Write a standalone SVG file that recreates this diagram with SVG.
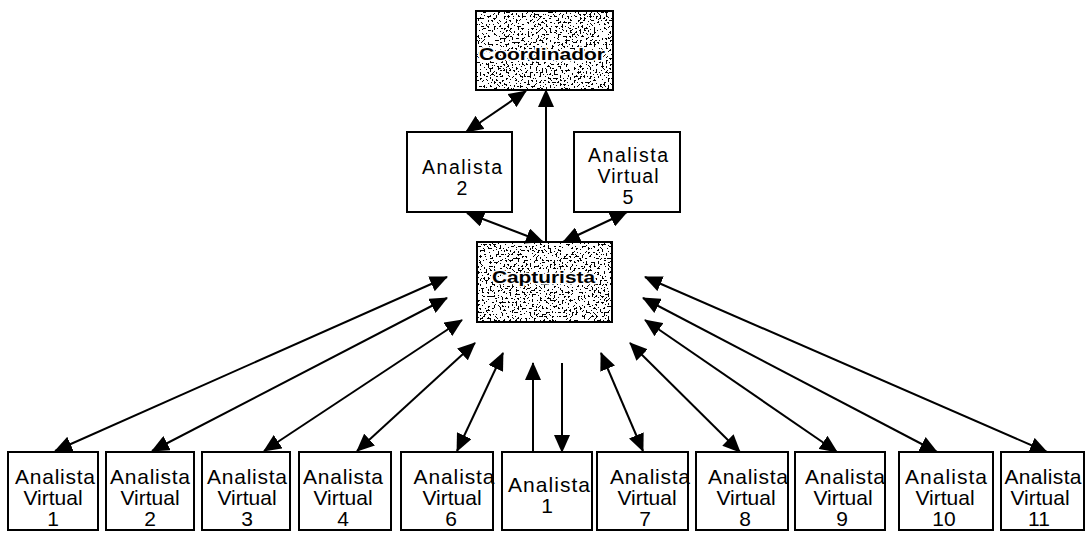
<svg xmlns="http://www.w3.org/2000/svg" width="1087" height="533" viewBox="0 0 1087 533">
  <style>
    .box { fill: #ffffff; stroke: #000000; stroke-width: 2; }
    .frame { fill: none; stroke: #000000; stroke-width: 2; }
    .tex { fill: #000000; filter: url(#speckle); }
    .lbl { font-family: "Liberation Sans", Arial, sans-serif; font-size: 21px; fill: #000000; text-anchor: middle; }
    .lblt { font-family: "Liberation Sans", Arial, sans-serif; font-size: 19.5px; fill: #000000; text-anchor: middle; }
    .bold { font-family: "Liberation Sans", Arial, sans-serif; font-size: 16.5px; font-weight: bold; fill: #000000; text-anchor: middle; stroke: #ffffff; stroke-width: 3; paint-order: stroke; stroke-linejoin: round; }
    .conn line { stroke: #000000; stroke-width: 2; fill: none; }
  </style>
  <defs>
    <filter id="speckle" x="0" y="0" width="1" height="1">
      <feTurbulence type="fractalNoise" baseFrequency="0.5" numOctaves="2" seed="7" result="n"/>
      <feColorMatrix in="n" type="matrix" values="0 0 0 0 0  0 0 0 0 0  0 0 0 0 0  1 0 0 0 0"/>
      <feComponentTransfer>
        <feFuncA type="discrete" tableValues="0 0 0 0 0 0 0 0 0 0 0 0 1 1 1 1 1 1 1 1"/>
      </feComponentTransfer>
      <feComposite operator="in" in2="SourceGraphic"/>
    </filter>
    <marker id="ah" viewBox="0 0 18 16" markerWidth="18" markerHeight="16" refX="17" refY="8" orient="auto-start-reverse" markerUnits="userSpaceOnUse">
      <path d="M0,0 L18,8 L0,16 Z" fill="#000000"/>
    </marker>
  </defs>

  <rect width="1087" height="533" fill="#ffffff"/>

  <g id="coordinador">
    <rect class="box" x="476" y="11" width="137" height="79"/>
    <rect class="tex" x="477" y="12" width="135" height="77"/>
    <rect class="frame" x="476" y="11" width="137" height="79"/>
    <text class="bold" x="542" y="60" textLength="126" lengthAdjust="spacingAndGlyphs">Coordinador</text>
  </g>

  <g id="analista2">
    <rect class="box" x="407" y="132" width="105" height="80"/>
    <text class="lblt" x="462" y="174" textLength="80">Analista</text>
    <text class="lblt" x="462" y="195">2</text>
  </g>

  <g id="analistaVirtual5">
    <rect class="box" x="574" y="132" width="106" height="80"/>
    <text class="lblt" x="628" y="162" textLength="80">Analista</text>
    <text class="lblt" x="628" y="183" textLength="61">Virtual</text>
    <text class="lblt" x="628" y="204">5</text>
  </g>

  <g id="capturista">
    <rect class="box" x="477" y="242" width="135" height="80"/>
    <rect class="tex" x="478" y="243" width="133" height="78"/>
    <rect class="frame" x="477" y="242" width="135" height="80"/>
    <text class="bold" x="543.5" y="283" textLength="103" lengthAdjust="spacingAndGlyphs">Capturista</text>
  </g>

  <g id="av1">
    <rect class="box" x="8" y="452" width="90" height="78"/>
    <text class="lbl" x="55" y="484" textLength="80">Analista</text>
    <text class="lbl" x="53" y="505">Virtual</text>
    <text class="lbl" x="53" y="526">1</text>
  </g>
  <g id="av2">
    <rect class="box" x="106" y="452" width="88" height="78"/>
    <text class="lbl" x="150" y="484" textLength="80">Analista</text>
    <text class="lbl" x="150" y="505">Virtual</text>
    <text class="lbl" x="150" y="526">2</text>
  </g>
  <g id="av3">
    <rect class="box" x="202" y="452" width="88" height="78"/>
    <text class="lbl" x="247" y="484" textLength="80">Analista</text>
    <text class="lbl" x="247" y="505">Virtual</text>
    <text class="lbl" x="247" y="526">3</text>
  </g>
  <g id="av4">
    <rect class="box" x="299" y="452" width="92" height="78"/>
    <text class="lbl" x="343" y="484" textLength="80">Analista</text>
    <text class="lbl" x="343" y="505">Virtual</text>
    <text class="lbl" x="343" y="526">4</text>
  </g>
  <g id="av6">
    <rect class="box" x="401" y="452" width="92" height="78"/>
    <text class="lbl" x="454" y="484" textLength="81">Analista</text>
    <text class="lbl" x="452" y="505">Virtual</text>
    <text class="lbl" x="451" y="526">6</text>
  </g>
  <g id="analista1">
    <rect class="box" x="502" y="452" width="90" height="78"/>
    <text class="lbl" x="549" y="492" textLength="82">Analista</text>
    <text class="lbl" x="547" y="513">1</text>
  </g>
  <g id="av7">
    <rect class="box" x="597" y="452" width="91" height="78"/>
    <text class="lbl" x="650" y="484" textLength="80">Analista</text>
    <text class="lbl" x="647" y="505">Virtual</text>
    <text class="lbl" x="645" y="526">7</text>
  </g>
  <g id="av8">
    <rect class="box" x="696" y="452" width="92" height="78"/>
    <text class="lbl" x="748" y="484" textLength="80">Analista</text>
    <text class="lbl" x="746" y="505">Virtual</text>
    <text class="lbl" x="745" y="526">8</text>
  </g>
  <g id="av9">
    <rect class="box" x="795" y="452" width="90" height="78"/>
    <text class="lbl" x="845" y="484" textLength="80">Analista</text>
    <text class="lbl" x="843" y="505">Virtual</text>
    <text class="lbl" x="842" y="526">9</text>
  </g>
  <g id="av10">
    <rect class="box" x="899" y="452" width="94" height="78"/>
    <text class="lbl" x="946" y="484" textLength="82">Analista</text>
    <text class="lbl" x="945" y="505">Virtual</text>
    <text class="lbl" x="944" y="526">10</text>
  </g>
  <g id="av11">
    <rect class="box" x="1001" y="452" width="83" height="78"/>
    <text class="lbl" x="1043" y="484" textLength="77">Analista</text>
    <text class="lbl" x="1040" y="505">Virtual</text>
    <text class="lbl" x="1039" y="526">11</text>
  </g>

  <g id="connectors" class="conn">
    <line x1="466" y1="132" x2="526" y2="91" marker-start="url(#ah)" marker-end="url(#ah)"/>
    <line x1="546" y1="242" x2="546" y2="90" marker-end="url(#ah)"/>
    <line x1="467" y1="213" x2="543" y2="242" marker-start="url(#ah)" marker-end="url(#ah)"/>
    <line x1="627" y1="212" x2="563" y2="242" marker-start="url(#ah)" marker-end="url(#ah)"/>
    <line x1="447" y1="277" x2="55" y2="451" marker-start="url(#ah)" marker-end="url(#ah)"/>
    <line x1="447" y1="298" x2="152" y2="451" marker-start="url(#ah)" marker-end="url(#ah)"/>
    <line x1="462" y1="320" x2="264" y2="451" marker-start="url(#ah)" marker-end="url(#ah)"/>
    <line x1="475" y1="343" x2="357" y2="451" marker-start="url(#ah)" marker-end="url(#ah)"/>
    <line x1="503" y1="353" x2="457" y2="451" marker-start="url(#ah)" marker-end="url(#ah)"/>
    <line x1="533" y1="452" x2="533" y2="363" marker-end="url(#ah)"/>
    <line x1="562" y1="363" x2="562" y2="452" marker-end="url(#ah)"/>
    <line x1="601" y1="353" x2="643" y2="451" marker-start="url(#ah)" marker-end="url(#ah)"/>
    <line x1="630" y1="343" x2="740" y2="452" marker-start="url(#ah)" marker-end="url(#ah)"/>
    <line x1="645" y1="320" x2="837" y2="452" marker-start="url(#ah)" marker-end="url(#ah)"/>
    <line x1="643" y1="298" x2="937" y2="452" marker-start="url(#ah)" marker-end="url(#ah)"/>
    <line x1="645" y1="277" x2="1047" y2="452" marker-start="url(#ah)" marker-end="url(#ah)"/>
  </g>
</svg>
